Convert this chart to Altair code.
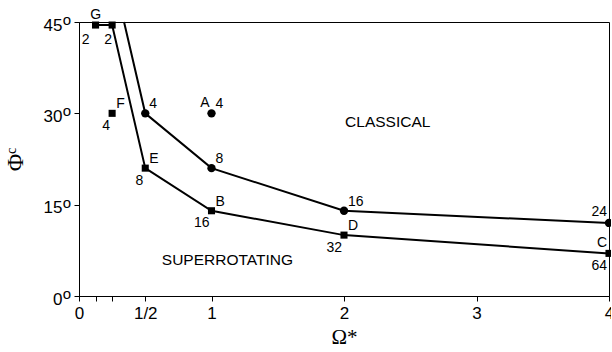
import altair as alt
import pandas as pd

# lower boundary curve (squares)
sq_x = [0.125, 0.25, 0.5, 1, 2, 4]
sq_y = [44.5, 44.5, 21, 14, 10, 7]
# upper boundary curve (circles)
ci_x = [0.5, 1, 2, 4]
ci_y = [30, 21, 14, 12]
# upper curve enters from the top of the plot
up_start_x = [0.34]
up_start_y = [45]
# isolated runs
iso_sq_x, iso_sq_y = [0.25], [30]   # F
iso_ci_x, iso_ci_y = [1], [30]      # A

label_text = ["G", "2", "2", "F", "4", "4", "A", "4", "E", "8", "8", "B", "16", "16", "D", "32", "24", "C", "64"]
label_x = [0.125, 0.125, 0.25, 0.25, 0.25, 0.5, 1, 1, 0.5, 0.5, 1, 1, 1, 2, 2, 2, 4, 4, 4]
label_y = [44.5, 44.5, 44.5, 30, 30, 30, 30, 30, 21, 21, 21, 14, 14, 14, 10, 10, 12, 7, 7]
label_pos = ["u", "lb", "bc", "ur", "ll", "ur", "ul", "ur", "ur", "ll", "ur", "ur", "ll", "ur", "ur", "ll", "ul", "ul", "ll"]

region_text = ["CLASSICAL", "SUPERROTATING"]
region_x = [2.33, 1.12]
region_y = [28.5, 5.9]

x_ticks = [0, 0.125, 0.25, 0.5, 1, 2, 3, 4]
y_ticks = [0, 15, 30, 45]

placements = {
    "u": ("center", 0, -10),
    "ur": ("left", 4, -9),
    "ul": ("right", -2, -10.5),
    "ll": ("right", -2, 12.5),
    "lb": ("right", -6, 15),
    "bc": ("center", -4, 15),
}

lower = pd.DataFrame({"x": sq_x, "y": sq_y})
upper_line = pd.DataFrame({"x": up_start_x + ci_x, "y": up_start_y + ci_y})
squares = pd.DataFrame({"x": sq_x + iso_sq_x, "y": sq_y + iso_sq_y})
circles = pd.DataFrame({"x": ci_x + iso_ci_x, "y": ci_y + iso_ci_y})
labels = pd.DataFrame({"x": label_x, "y": label_y, "t": label_text, "p": label_pos})
regions = pd.DataFrame({"x": region_x, "y": region_y, "t": region_text})
yt = pd.DataFrame({"y": y_ticks})

xs = alt.Scale(domain=[0, 4], nice=False, zero=False)
ys = alt.Scale(domain=[0, 45], nice=False, zero=False)

X = alt.X("x:Q", scale=xs, axis=alt.Axis(
    values=x_ticks, title="Ω*", grid=False,
    labelExpr="datum.value == 0.5 ? '1/2' : ((datum.value == 0.125 || datum.value == 0.25) ? '' : '' + datum.value)",
    labelOverlap=False, labelFlush=False, labelPadding=4,
    labelFont="Liberation Sans", labelFontSize=17, labelColor="black",
    domainColor="black", tickColor="black", tickSize=5,
    titleFont="Liberation Serif", titleFontSize=21, titleFontWeight="normal", titleColor="black", titlePadding=5))
Y = alt.Y("y:Q", scale=ys, axis=alt.Axis(
    values=y_ticks, title="Φᶜ", grid=False,
    labelExpr="'' + datum.value",
    labelOverlap=False, labelFlush=False, labelPadding=12, labelOffset=3,
    labelFont="Liberation Sans", labelFontSize=17, labelColor="black",
    domainColor="black", tickColor="black", tickSize=5,
    titleFont="Liberation Serif", titleFontSize=24, titleFontWeight="normal", titleColor="black", titlePadding=16))

base_lower = alt.Chart(lower).mark_line(color="black", strokeWidth=2).encode(x=X, y=Y)
base_upper = alt.Chart(upper_line).mark_line(color="black", strokeWidth=2).encode(x="x:Q", y="y:Q")
sq_layer = alt.Chart(squares).mark_square(color="black", size=50, opacity=1).encode(x="x:Q", y="y:Q")
ci_layer = alt.Chart(circles).mark_circle(color="black", size=70, opacity=1).encode(x="x:Q", y="y:Q")

# raised "o" (degree) after each y tick label
deg_layer = alt.Chart(yt).mark_text(
    text="o", font="Liberation Sans", fontSize=15, color="black", align="center", baseline="middle", dy=-2
).encode(x=alt.value(-12), y="y:Q")

text_layers = []
for code, (al, dx, dy) in placements.items():
    text_layers.append(
        alt.Chart(labels).transform_filter(alt.datum.p == code).mark_text(
            align=al, dx=dx, dy=dy, baseline="middle", font="Liberation Sans", fontSize=14, color="black"
        ).encode(x="x:Q", y="y:Q", text="t:N")
    )

region_layer = alt.Chart(regions).mark_text(
    font="Liberation Sans", fontSize=15.5, color="black", baseline="middle", align="center"
).encode(x="x:Q", y="y:Q", text="t:N")

chart = alt.layer(base_lower, base_upper, sq_layer, ci_layer, region_layer, deg_layer, *text_layers).properties(
    width=530, height=274,
    padding={"left": 79, "top": 22, "right": 2, "bottom": 56},
    autosize=alt.AutoSizeParams(type="none"),
    background="white",
).configure_view(stroke="black", strokeWidth=1).configure_axis(
    grid=False, domainColor="black", tickColor="black", labelColor="black", titleColor="black",
    tickSize=5, domainWidth=1, tickWidth=1,
)

chart.save("out.html", embed_options={"renderer": "svg", "actions": False})
